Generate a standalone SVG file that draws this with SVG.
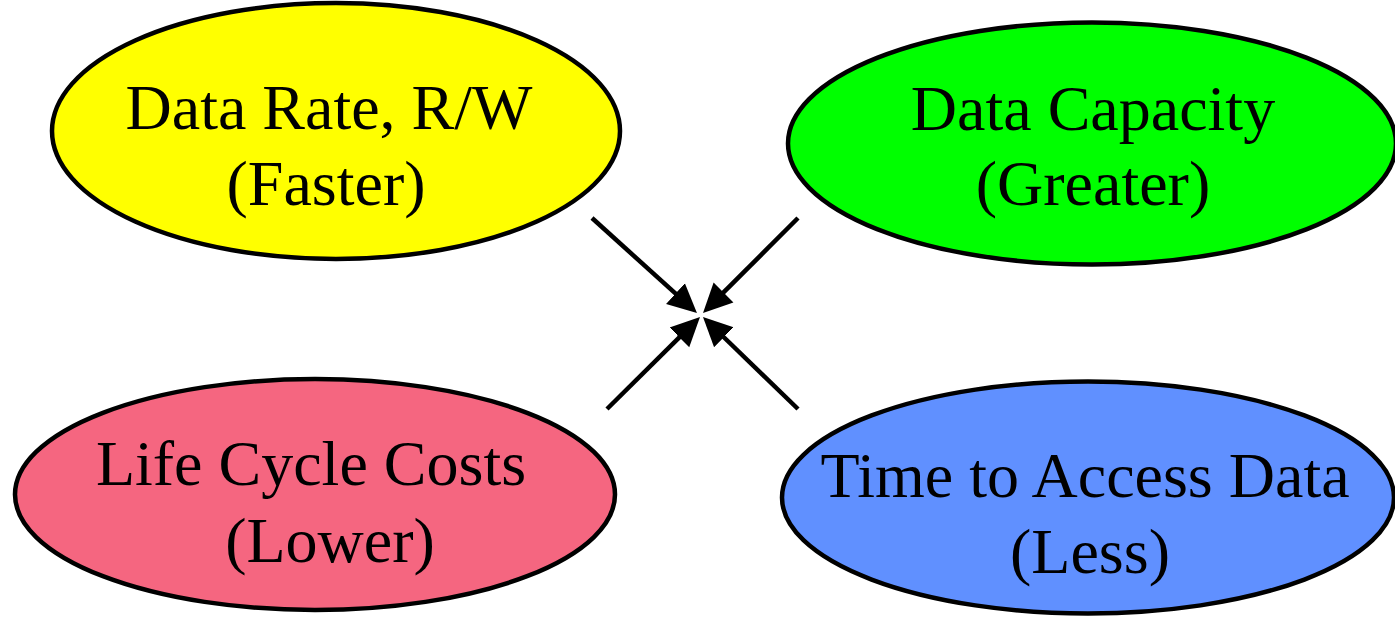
<svg xmlns="http://www.w3.org/2000/svg" width="1395" height="618" viewBox="0 0 1395 618">
<style>
.node ellipse{stroke:#000;stroke-width:4.5}
.node text{font-family:"Liberation Serif","Times New Roman",serif;font-size:64px;fill:#000;text-anchor:middle}
.edge{stroke:#000;stroke-width:4.5;fill:none;marker-end:url(#ah)}
</style>
<defs>
<marker id="ah" markerUnits="userSpaceOnUse" markerWidth="30" markerHeight="30" refX="1" refY="14" orient="auto" viewBox="0 0 30 28">
<path d="M0,0 L29,14 L0,28 z" fill="#000"/>
</marker>
</defs>
<rect width="1395" height="618" fill="#fff"/>
<g id="n-datarate" class="node">
<ellipse cx="336" cy="131" rx="284" ry="128" fill="#FFFF00"/>
<text x="329" y="129">Data Rate, R/W</text>
<text x="326" y="205">(Faster)</text>
</g>
<g id="n-capacity" class="node">
<ellipse cx="1092" cy="143.5" rx="304" ry="121" fill="#00FF00"/>
<text x="1093" y="130">Data Capacity</text>
<text x="1093" y="205">(Greater)</text>
</g>
<g id="n-cost" class="node">
<ellipse cx="315" cy="494.5" rx="300" ry="115.5" fill="#F56680"/>
<text x="311" y="485">Life Cycle Costs</text>
<text x="330" y="562">(Lower)</text>
</g>
<g id="n-access" class="node">
<ellipse cx="1088" cy="497.5" rx="306" ry="116" fill="#6090FF"/>
<text x="1085" y="497">Time to Access Data</text>
<text x="1090" y="573">(Less)</text>
</g>
<g id="connectors">
<line class="edge" x1="592" y1="218" x2="676.2" y2="294.2"/>
<line class="edge" x1="798" y1="218" x2="722.8" y2="293.2"/>
<line class="edge" x1="607" y1="409" x2="680.1" y2="336.7"/>
<line class="edge" x1="798" y1="409" x2="723.1" y2="336.5"/>
</g>
</svg>
